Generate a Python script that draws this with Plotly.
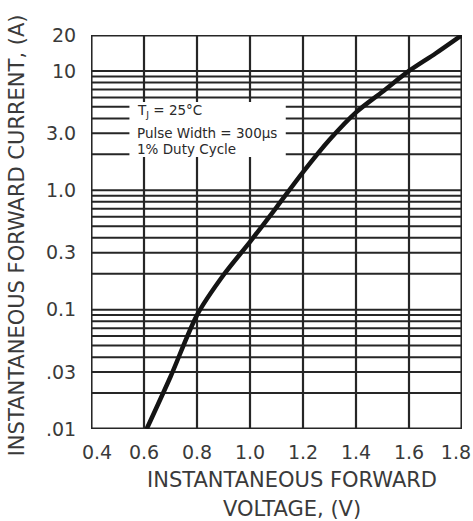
import numpy as np
import plotly.graph_objects as go

# ---- data ----
voltage = [0.61, 0.70, 0.80, 0.90, 1.00, 1.10, 1.20, 1.30, 1.40, 1.50, 1.60, 1.70, 1.80]
current = [0.01, 0.0274, 0.090, 0.195, 0.37, 0.72, 1.42, 2.65, 4.5, 6.7, 10.0, 14.0, 20.0]

x_ticks = [0.4, 0.6, 0.8, 1.0, 1.2, 1.4, 1.6, 1.8]
x_ticktext = ["\u00a0\u00a00.4", "0.6", "0.8", "1.0", "1.2", "1.4", "1.6", "1.8\u00a0\u00a0"]
y_ticks = [0.01, 0.03, 0.1, 0.3, 1.0, 3.0, 10.0, 20.0]
y_ticktext = [".01", ".03", "0.1", "0.3", "1.0", "3.0", "10", "20"]

y_grid = [0.01, 0.02, 0.03, 0.04, 0.05, 0.06, 0.07, 0.08, 0.09,
          0.1, 0.2, 0.3, 0.4, 0.5, 0.6, 0.7, 0.8, 0.9,
          1, 2, 3, 4, 5, 6, 7, 8, 9, 10, 20]
x_grid = x_ticks

notes = ["T<sub>J</sub> = 25°C", "Pulse Width = 300µs", "1% Duty Cycle"]
note_y = [4.6, 3.0, 2.2]
note_x = 0.565
box_x = [0.545, 1.135]
box_y = [1.9, 5.5]

x_title = ["INSTANTANEOUS FORWARD", "VOLTAGE, (V)"]
y_title = "INSTANTANEOUS FORWARD CURRENT, (A)"

XR = [0.4, 1.8]
YR = [0.01, 20]

GRID = "#262626"
TXT = "#3a3a3a"
FONT = "DejaVu Sans"

shapes = []
for yv in y_grid:
    shapes.append(dict(type="line", xref="x", yref="y", x0=XR[0], x1=XR[1], y0=yv, y1=yv,
                       line=dict(color=GRID, width=2), layer="below"))
for xv in x_grid:
    shapes.append(dict(type="line", xref="x", yref="y", x0=xv, x1=xv, y0=YR[0], y1=YR[1],
                       line=dict(color=GRID, width=2.2), layer="below"))
# white cut-out behind the condition notes
shapes.append(dict(type="rect", xref="x", yref="y", x0=box_x[0], x1=box_x[1], y0=box_y[0], y1=box_y[1],
                   fillcolor="white", line=dict(width=0), layer="below"))
# frame
shapes.append(dict(type="rect", xref="x", yref="y", x0=XR[0], x1=XR[1], y0=YR[0], y1=YR[1],
                   fillcolor="rgba(0,0,0,0)", line=dict(color=GRID, width=3), layer="below"))

fig = go.Figure()
fig.add_trace(go.Scatter(x=voltage, y=current, mode="lines",
                         line=dict(color="#141414", width=4.5, shape="spline", smoothing=0.8),
                         hoverinfo="skip", showlegend=False))

annotations = []
for t, yv in zip(notes, note_y):
    annotations.append(dict(text=t, x=note_x, y=np.log10(yv), xref="x", yref="y",
                            xanchor="left", yanchor="middle", showarrow=False,
                            font=dict(family=FONT, size=13.5, color="#2a2a2a")))

annotations.append(dict(text=x_title[0], x=0.542, y=-0.129, xref="paper", yref="paper",
                        xanchor="center", yanchor="middle", showarrow=False,
                        font=dict(family=FONT, size=21, color=TXT)))
annotations.append(dict(text=x_title[1], x=0.542, y=-0.2035, xref="paper", yref="paper",
                        xanchor="center", yanchor="middle", showarrow=False,
                        font=dict(family=FONT, size=21, color=TXT)))
annotations.append(dict(text=y_title, x=-0.1985, y=0.4924, xref="paper", yref="paper",
                        xanchor="center", yanchor="middle", showarrow=False, textangle=-90,
                        font=dict(family=FONT, size=21, color=TXT)))

fig.update_layout(
    width=473, height=521,
    margin=dict(l=91, r=11, t=35, b=92, autoexpand=False),
    paper_bgcolor="white", plot_bgcolor="white",
    shapes=shapes, annotations=annotations,
    showlegend=False,
    xaxis=dict(range=XR, tickvals=x_ticks, ticktext=x_ticktext, showgrid=False, zeroline=False,
               showline=False, ticks="outside", ticklen=6, tickcolor="rgba(0,0,0,0)",
               ticklabeloverflow="allow", automargin=False,
               tickfont=dict(family=FONT, size=19, color=TXT), fixedrange=True),
    yaxis=dict(type="log", range=[np.log10(YR[0]), np.log10(YR[1])], tickvals=y_ticks,
               ticktext=y_ticktext, showgrid=False, zeroline=False, showline=False,
               ticks="outside", ticklen=10, tickcolor="rgba(0,0,0,0)", automargin=False,
               tickfont=dict(family=FONT, size=19, color=TXT), fixedrange=True),
)

# remove the browser's default 8px page margin so the 473x521 figure fills the window exactly
fig.write_html("out.html", config={"displayModeBar": False},
               post_script="document.body.style.margin='0';document.body.style.overflow='hidden';")
